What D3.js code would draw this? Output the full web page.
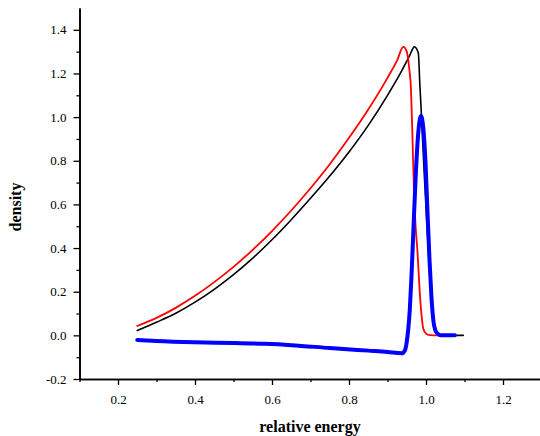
<!DOCTYPE html>
<html>
<head>
<meta charset="utf-8">
<script src="https://cdn.jsdelivr.net/npm/d3@7"></script>
<style>
  body { margin: 0; background: #fff; }
  svg { display: block; }
  svg text { font-family: "Liberation Serif", "DejaVu Serif", serif; }
</style>
</head>
<body>
<div id="canvas"></div>
<script>
"use strict"

/* Configuration variables: drawing */
let svgWidth = 540;
let svgHeight = 436;

/* data */
let blackX = [0.25, 0.30, 0.35, 0.40, 0.45, 0.50, 0.55, 0.60, 0.65, 0.70, 0.75, 0.80, 0.85, 0.90, 0.93, 0.957, 0.970, 0.980, 0.984, 0.987, 0.991, 0.996, 1.002, 1.008, 1.014, 1.020, 1.026, 1.034, 1.045, 1.097];
let blackY = [0.022, 0.060, 0.101, 0.152, 0.211, 0.278, 0.354, 0.438, 0.530, 0.628, 0.730, 0.840, 0.962, 1.100, 1.190, 1.280, 1.322, 1.294, 1.150, 1.050, 0.900, 0.720, 0.520, 0.330, 0.170, 0.070, 0.020, 0.005, 0.001, 0.000];

let redX = [0.25, 0.30, 0.35, 0.40, 0.45, 0.50, 0.55, 0.60, 0.65, 0.70, 0.75, 0.80, 0.85, 0.90, 0.925, 0.941, 0.950, 0.956, 0.961, 0.965, 0.969, 0.973, 0.978, 0.983, 0.988, 0.993, 1.000, 1.010, 1.036];
let redY = [0.043, 0.080, 0.126, 0.181, 0.244, 0.314, 0.392, 0.478, 0.572, 0.674, 0.784, 0.905, 1.035, 1.180, 1.260, 1.322, 1.300, 1.230, 1.126, 0.900, 0.650, 0.500, 0.380, 0.220, 0.100, 0.030, 0.008, 0.001, 0.000];

let blueX = [0.25, 0.30, 0.40, 0.50, 0.58, 0.65, 0.75, 0.85, 0.90, 0.937, 0.945, 0.950, 0.954, 0.958, 0.962, 0.967, 0.973, 0.980, 0.987, 0.993, 0.999, 1.004, 1.009, 1.014, 1.019, 1.025, 1.032, 1.040, 1.075];
let blueY = [-0.021, -0.026, -0.032, -0.035, -0.039, -0.045, -0.058, -0.070, -0.076, -0.082, -0.070, -0.030, 0.030, 0.120, 0.260, 0.470, 0.720, 0.930, 1.005, 0.950, 0.780, 0.560, 0.350, 0.180, 0.070, 0.020, 0.005, 0.000, 0.000];

/* tick values */
let xMajor = [0.2, 0.4, 0.6, 0.8, 1.0, 1.2];
let xMinor = [0.1, 0.3, 0.5, 0.7, 0.9, 1.1, 1.3];
let yMajor = [-0.2, 0.0, 0.2, 0.4, 0.6, 0.8, 1.0, 1.2, 1.4];
let yMinor = [-0.1, 0.1, 0.3, 0.5, 0.7, 0.9, 1.1, 1.3];

let svg = d3.select("#canvas")
    .append("svg")
    .attr("width", svgWidth)
    .attr("height", svgHeight);

let xScale = d3.scaleLinear()
    .domain([0.1, 1.3])
    .range([79.5, 541.5]);

let yScale = d3.scaleLinear()
    .domain([-0.2, 1.5])
    .range([379, 8]);

/* curves: black, red, then thick blue on top */
let series = [
    { xs: blackX, ys: blackY, color: "#000000", width: 1.6 },
    { xs: redX, ys: redY, color: "#ff0000", width: 1.8 },
    { xs: blueX, ys: blueY, color: "#0000ff", width: 4 }
];

let line = d3.line()
    .x(d => xScale(d[0]))
    .y(d => yScale(d[1]))
    .curve(d3.curveMonotoneX);

for (let i = 0; i < series.length; i++) {
    let pts = series[i].xs.map((x, j) => [x, series[i].ys[j]]);
    svg.append("path")
        .attr("d", line(pts))
        .attr("fill", "none")
        .attr("stroke", series[i].color)
        .attr("stroke-width", series[i].width)
        .attr("stroke-linejoin", "round")
        .attr("stroke-linecap", "round");
}

/* axes */
let fmt = d => d.toFixed(1);
let serif = "Liberation Serif, DejaVu Serif, serif";

svg.append("g")
    .attr("transform", "translate(0,379)")
    .call(d3.axisBottom(xScale).tickValues(xMajor).tickFormat(fmt).tickSize(6).tickSizeOuter(0).tickPadding(10))
    .attr("font-family", serif)
    .attr("font-size", 13);
svg.append("g")
    .attr("transform", "translate(0,379)")
    .call(d3.axisBottom(xScale).tickValues(xMinor).tickFormat("").tickSize(3).tickSizeOuter(0));

svg.append("g")
    .attr("transform", "translate(79.5,0)")
    .call(d3.axisLeft(yScale).tickValues(yMajor).tickFormat(fmt).tickSize(6).tickSizeOuter(0).tickPadding(7))
    .attr("font-family", serif)
    .attr("font-size", 13);
svg.append("g")
    .attr("transform", "translate(79.5,0)")
    .call(d3.axisLeft(yScale).tickValues(yMinor).tickFormat("").tickSize(3).tickSizeOuter(0));

svg.selectAll(".domain").attr("stroke", "#000").attr("stroke-width", 1.6);
svg.selectAll(".tick line").attr("stroke", "#000").attr("stroke-width", 1.3);
svg.selectAll(".tick text").attr("fill", "#000");

/* axis titles */
svg.append("text")
    .attr("x", 310)
    .attr("y", 432)
    .attr("text-anchor", "middle")
    .style("font-size", "16px")
    .style("font-weight", "bold")
    .text("relative energy");

svg.append("text")
    .attr("transform", "translate(21,207) rotate(-90)")
    .attr("text-anchor", "middle")
    .style("font-size", "16px")
    .style("font-weight", "bold")
    .text("density");
</script>
</body>
</html>
